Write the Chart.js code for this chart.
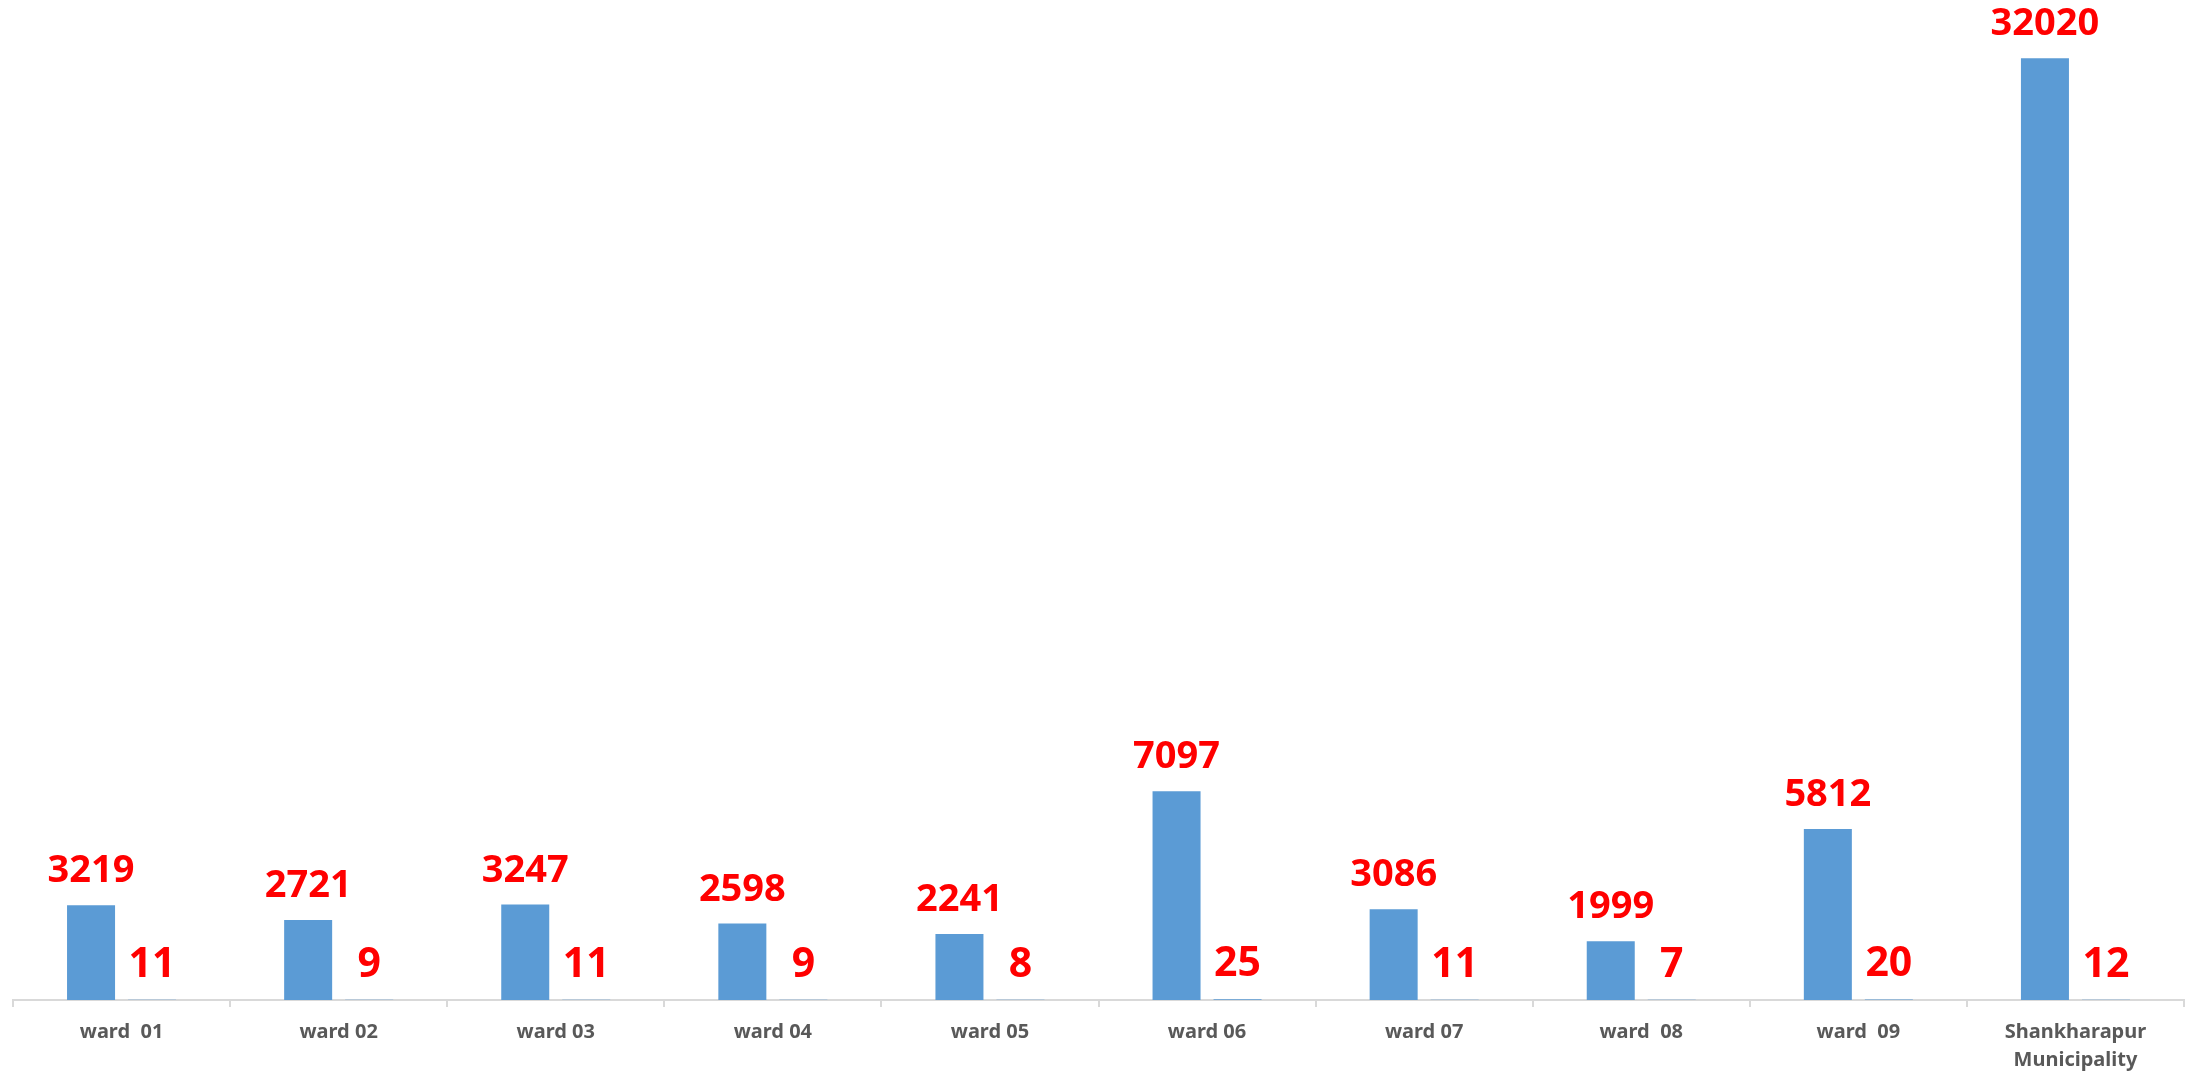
<!DOCTYPE html>
<html>
<head>
<meta charset="utf-8">
<script src="https://cdn.jsdelivr.net/npm/chart.js@4"></script>
<style>
  html, body { margin: 0; padding: 0; background: #ffffff; }
  #wrap { width: 2197px; height: 1076px; position: relative; }
</style>
</head>
<body>
<div id="wrap"><canvas id="bar"></canvas></div>
<script>
// ward names (double spaces kept as written)
const wards = ["ward  01", "ward 02", "ward 03", "ward 04", "ward 05", "ward 06", "ward 07", "ward  08", "ward  09", ["Shankharapur", "Municipality"]];
// population per ward
const population = [3219, 2721, 3247, 2598, 2241, 7097, 3086, 1999, 5812, 32020];
// second series
const share = [11, 9, 11, 9, 8, 25, 11, 7, 20, 12];

const ctx = document.getElementById("bar").getContext("2d");

// value labels above each bar (second series a bit larger)
const labelFonts = ['bold 38px "Noto Sans"', 'bold 41px "Noto Sans"'];

const valueLabels = {
    id: 'valueLabels',
    afterDatasetsDraw(chart) {
        const c = chart.ctx;
        c.save();
        c.fillStyle = '#ff0000';
        c.textAlign = 'center';
        c.textBaseline = 'alphabetic';
        chart.data.datasets.forEach((ds, i) => {
            c.font = labelFonts[i];
            chart.getDatasetMeta(i).data.forEach((bar, j) => {
                c.fillText(String(ds.data[j]), bar.x, bar.y - 23);
            });
        });
        c.restore();
    }
};

const chart = new Chart(ctx, {
    type: 'bar',
    data: {
        labels: wards,
        datasets: [
            {
                label: 'Population',
                data: population,
                backgroundColor: '#5b9bd5',
                borderColor: '#5b9bd5',
                borderWidth: 0,
                categoryPercentage: 0.562,
                barPercentage: 0.787
            },
            {
                label: 'Share',
                data: share,
                backgroundColor: '#5b9bd5',
                borderWidth: 0,
                categoryPercentage: 0.562,
                barPercentage: 0.787
            }
        ]
    },
    options: {
        responsive: true,
        maintainAspectRatio: false,
        animation: false,
        layout: { padding: { left: 13, right: 13, top: 0, bottom: 0 } },
        plugins: {
            legend: { display: false },
            tooltip: { enabled: false }
        },
        scales: {
            x: {
                grid: {
                    offset: true,
                    drawOnChartArea: false,
                    drawTicks: true,
                    tickLength: 7,
                    color: '#d9d9d9',
                    lineWidth: 2
                },
                border: { color: '#d9d9d9', width: 2 },
                ticks: {
                    color: '#595959',
                    padding: 11,
                    maxRotation: 0,
                    autoSkip: false,
                    font: { family: '"Noto Sans"', size: 20, weight: 'bold', lineHeight: 1.4 }
                },
                afterFit(scale) { scale.height = 76; }
            },
            y: {
                display: false,
                min: 0,
                max: 34000,
                beginAtZero: true
            }
        }
    },
    plugins: [valueLabels]
});
</script>
</body>
</html>
